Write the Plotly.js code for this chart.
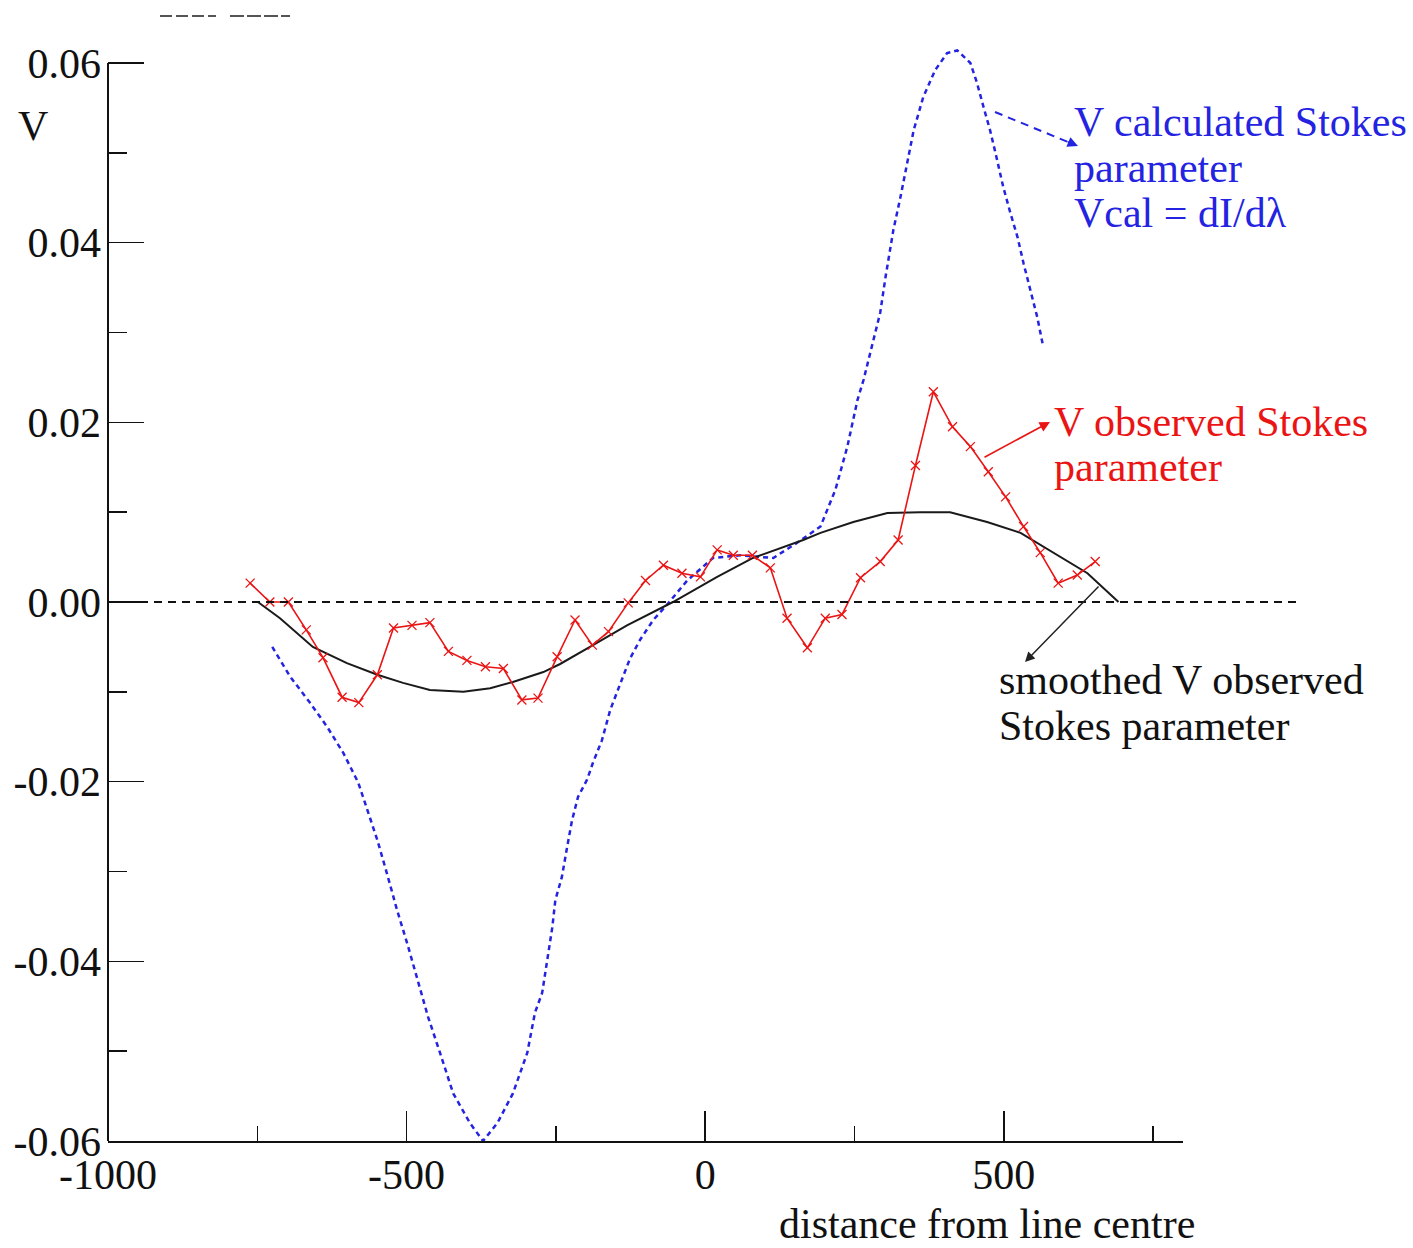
<!DOCTYPE html>
<html>
<head>
<meta charset="utf-8">
<script src="https://cdn.plot.ly/plotly-3.0.1.min.js"></script>
<style>html,body{margin:0;padding:0;background:#fff;}#chart{width:1413px;height:1248px;}</style>
</head>
<body>
<div id="chart"></div>
<script>
// ---- data ----
const obsX = [-762,-729,-698,-668,-640,-608,-580,-549,-522,-491,-461,-430,-399,-368,-338,-307,-280,-248,-218,-189,-162,-129,-100,-70,-39,-8,20,47,79,109,137,171,201,229,260,293,323,352,382,414,444,474,503,533,561,591,623,653];
const obsV = [0.0021,0.0000,0.0000,-0.0031,-0.0062,-0.0106,-0.0112,-0.0081,-0.0029,-0.0026,-0.0023,-0.0055,-0.0065,-0.0072,-0.0074,-0.0109,-0.0107,-0.0061,-0.0020,-0.0048,-0.0033,-0.0001,0.0024,0.0041,0.0032,0.0028,0.0058,0.0052,0.0052,0.0038,-0.0018,-0.0051,-0.0018,-0.0014,0.0027,0.0045,0.0069,0.0152,0.0234,0.0195,0.0173,0.0145,0.0117,0.0084,0.0055,0.0021,0.0030,0.0045];

const smoothX = [-749,-712,-657,-600,-549,-506,-461,-405,-360,-322,-271,-243,-193,-131,-54,20,80,164,193,248,305,360,410,472,528,583,640,692];
const smoothV = [0.0000,-0.0018,-0.0050,-0.0068,-0.0081,-0.0090,-0.0098,-0.0100,-0.0096,-0.0089,-0.0078,-0.0069,-0.0050,-0.0026,0.0000,0.0028,0.0049,0.0069,0.0077,0.0089,0.0099,0.0100,0.0100,0.0089,0.0077,0.0055,0.0032,0.0000];

const calX = [-725,-695,-662,-633,-606,-581,-564,-549,-533,-516,-499,-482,-464,-444,-422,-394,-372,-348,-322,-298,-285,-273,-265,-256,-251,-240,-231,-223,-213,-198,-188,-173,-159,-142,-126,-109,-87,-64,-30,13,59,114,154,193,218,238,255,265,293,302,315,327,338,349,365,385,405,422,444,455,466,477,486,499,511,523,533,544,556,566];
const calV = [-0.0050,-0.0083,-0.0112,-0.0139,-0.0168,-0.0201,-0.0235,-0.0265,-0.0302,-0.0343,-0.0380,-0.0421,-0.0462,-0.0502,-0.0547,-0.0580,-0.0600,-0.0580,-0.0547,-0.0502,-0.0457,-0.0435,-0.0398,-0.0362,-0.0332,-0.0306,-0.0272,-0.0243,-0.0217,-0.0198,-0.0179,-0.0154,-0.0120,-0.0090,-0.0063,-0.0042,-0.0020,-0.0003,0.0024,0.0049,0.0052,0.0049,0.0066,0.0084,0.0125,0.0173,0.0225,0.0247,0.0322,0.0362,0.0414,0.0451,0.0489,0.0525,0.0562,0.0592,0.0611,0.0614,0.0600,0.0578,0.0551,0.0525,0.0500,0.0462,0.0433,0.0406,0.0377,0.0347,0.0317,0.0284];

const xTickVals = [-1000,-500,0,500];
const xTickText = ['-1000','-500','0','500'];
const xMinorVals = [-750,-250,250,750];
const yTickVals = [-0.06,-0.04,-0.02,0.00,0.02,0.04,0.06];
const yTickText = ['-0.06','-0.04','-0.02','0.00','0.02','0.04','0.06'];
const yMinorVals = [-0.05,-0.03,-0.01,0.01,0.03,0.05];

// ---- layout helpers (pixel -> paper) ----
const L = 108, R = 1183, T = 40, B = 1141;
const TOP_TICK_PX = 63;                       // pixel row of the 0.06 tick
const PER_PX = 0.12 / (B - TOP_TICK_PX);       // value units per pixel
const yTop = 0.06 + (TOP_TICK_PX - T) * PER_PX; // a little head-room so the blue peak is not clipped
const px = v => (v - L) / (R - L);
const py = v => (B - v) / (B - T);
const FONT = 'Liberation Serif, Times New Roman, serif';
const BLUE = 'rgb(35,35,225)';
const RED = 'rgb(235,20,20)';
const FS = 42;

const traces = [
  {x: calX, y: calV, type: 'scatter', mode: 'lines', cliponaxis: false,
   line: {color: BLUE, width: 2.5, dash: '5px,4px'}, hoverinfo: 'skip'},
  {x: smoothX, y: smoothV, type: 'scatter', mode: 'lines',
   line: {color: '#1a1a1a', width: 2}, hoverinfo: 'skip'},
  {x: obsX, y: obsV, type: 'scatter', mode: 'lines+markers',
   line: {color: RED, width: 1.6},
   marker: {symbol: 'x-thin', size: 9, line: {color: RED, width: 1.3}}, hoverinfo: 'skip'}
];

function txt(text, xp, yp, color) {
  return {text: text, xref: 'paper', yref: 'paper', x: px(xp), y: py(yp),
          xanchor: 'left', yanchor: 'middle', showarrow: false,
          font: {family: FONT, size: FS, color: color}};
}
function arrow(hx, hy, tx, ty, color, w) {
  return {text: '', xref: 'paper', yref: 'paper', x: px(hx), y: py(hy),
          ax: tx - hx, ay: ty - hy, showarrow: true, arrowhead: 2, arrowsize: 1.3,
          arrowwidth: w, arrowcolor: color, standoff: 0, startstandoff: 0};
}

const annotations = [
  txt('V calculated Stokes', 1072, 122, BLUE),
  txt('parameter', 1072, 168, BLUE),
  txt('Vcal = dI/dλ', 1072, 213, BLUE),
  txt('V observed Stokes', 1052, 422, RED),
  txt('parameter', 1052, 467, RED),
  txt('smoothed V observed', 997, 680, '#111'),
  txt('Stokes parameter', 997, 726, '#111'),
  {text: 'V', xref: 'paper', yref: 'paper', x: px(33), y: py(126), xanchor: 'center', yanchor: 'middle',
   showarrow: false, font: {family: FONT, size: FS, color: '#111'}},
  {text: 'distance from line centre', xref: 'paper', yref: 'paper', x: px(987), y: py(1224),
   xanchor: 'center', yanchor: 'middle', showarrow: false, font: {family: FONT, size: FS, color: '#111'}},
  arrow(1078, 146, 1066, 141, BLUE, 1.6),
  arrow(1050, 422, 983, 458, RED, 1.6),
  arrow(1025, 662, 1100, 585, '#222', 1.5)
];

const shapes = [
  // y axis line, from -0.06 up to the 0.06 tick only
  {type: 'line', xref: 'paper', yref: 'paper', x0: 0, x1: 0, y0: 0, y1: py(TOP_TICK_PX),
   line: {color: '#111', width: 2}},
  // dashed zero reference line (extends beyond the axis)
  {type: 'line', xref: 'paper', yref: 'paper', x0: px(112), x1: px(1298), y0: py(602), y1: py(602),
   line: {color: '#111', width: 2, dash: '8px,6px'}},
  // dashed shaft of the blue label arrow
  {type: 'line', xref: 'paper', yref: 'paper', x0: px(995), y0: py(112), x1: px(1068), y1: py(142),
   line: {color: BLUE, width: 2, dash: '8px,6px'}},
  // faint cut-off legend remnant at the top
  {type: 'line', xref: 'paper', yref: 'paper', x0: px(160), x1: px(216), y0: py(16), y1: py(16),
   line: {color: '#555', width: 2, dash: '12px,4px'}},
  {type: 'line', xref: 'paper', yref: 'paper', x0: px(230), x1: px(290), y0: py(16), y1: py(16),
   line: {color: '#555', width: 2, dash: '14px,3px'}}
];

const layout = {
  width: 1413, height: 1248,
  margin: {l: L, r: 1413 - R, t: T, b: 1248 - B},
  paper_bgcolor: '#fff', plot_bgcolor: '#fff',
  showlegend: false,
  font: {family: FONT, color: '#111'},
  xaxis: {
    range: [-1000, 800], showgrid: false, zeroline: false,
    showline: true, linecolor: '#111', linewidth: 2,
    tickmode: 'array', tickvals: xTickVals, ticktext: xTickText,
    ticks: 'inside', ticklen: 30, tickwidth: 1.5, tickcolor: '#111',
    ticklabelstandoff: -4,
    tickfont: {family: FONT, size: FS, color: '#111'},
    minor: {tickmode: 'array', tickvals: xMinorVals, ticks: 'inside', ticklen: 15, tickwidth: 1.5, tickcolor: '#111', showgrid: false}
  },
  yaxis: {
    range: [-0.06, yTop], showgrid: false, zeroline: false,
    showline: false,
    tickmode: 'array', tickvals: yTickVals, ticktext: yTickText,
    ticks: 'inside', ticklen: 36, tickwidth: 1.5, tickcolor: '#111',
    ticklabelstandoff: 6,
    tickfont: {family: FONT, size: FS, color: '#111'},
    minor: {tickmode: 'array', tickvals: yMinorVals, ticks: 'inside', ticklen: 19, tickwidth: 1.5, tickcolor: '#111', showgrid: false}
  },
  annotations: annotations,
  shapes: shapes
};

Plotly.newPlot('chart', traces, layout, {displayModeBar: false, staticPlot: true});
</script>
</body>
</html>
